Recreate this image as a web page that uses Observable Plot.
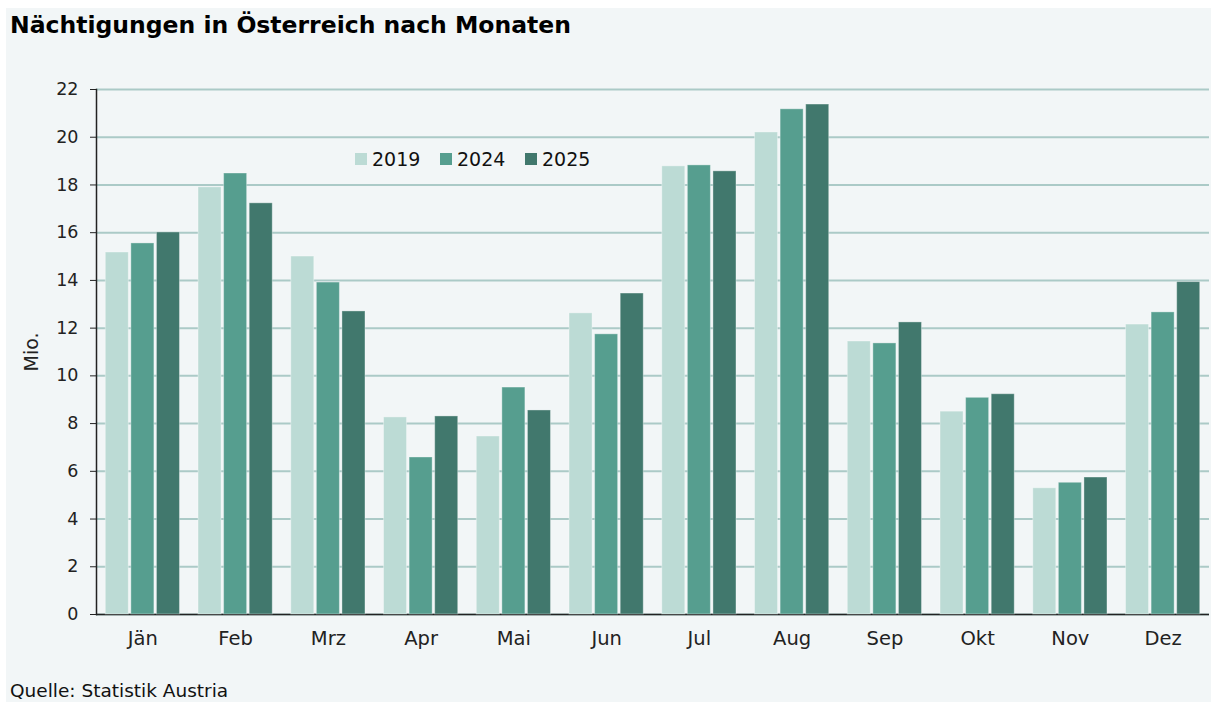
<!DOCTYPE html>
<html><head><meta charset="utf-8">
<script src="https://cdn.jsdelivr.net/npm/d3@7"></script>
<script src="https://cdn.jsdelivr.net/npm/@observablehq/plot@0.6"></script>
<style>
body{margin:0;background:#fff;font-family:"DejaVu Sans",sans-serif;}
#box{position:absolute;left:6px;top:8px;width:1205px;height:694px;background:#f2f6f7;overflow:hidden}
#title{position:absolute;left:4px;top:6px;font-weight:bold;font-size:23.5px;color:#000;white-space:nowrap;line-height:1}
.layer{position:absolute;left:0;top:42px}
#legend{position:absolute;left:349px;top:141px;display:flex;font-size:19px;color:#111;line-height:20px}
.item{display:flex;align-items:center;width:85px}
.sw{width:12px;height:12px;margin-right:5px}
#caption{position:absolute;left:4px;top:672px;font-size:18.5px;color:#111;white-space:nowrap;line-height:1.15}
</style></head>
<body>
<div id="box">
  <div id="title">Nächtigungen in Österreich nach Monaten</div>
  <div id="axes" class="layer"></div>
  <div id="bars" class="layer"></div>
  <div id="legend"></div>
  <div id="caption">Quelle: Statistik Austria</div>
</div>
<script>
const months = ["Jän","Feb","Mrz","Apr","Mai","Jun","Jul","Aug","Sep","Okt","Nov","Dez"];
const years = ["2019","2024","2025"];
const v2019 = [15.17, 17.90, 15.00, 8.26, 7.46, 12.62, 18.78, 20.20, 11.44, 8.50, 5.29, 12.15];
const v2024 = [15.55, 18.48, 13.91, 6.58, 9.51, 11.74, 18.82, 21.17, 11.36, 9.08, 5.52, 12.66];
const v2025 = [16.01, 17.23, 12.70, 8.30, 8.55, 13.45, 18.57, 21.37, 12.24, 9.23, 5.74, 13.93];
const yTicks = [0,2,4,6,8,10,12,14,16,18,20,22];
const colors = ["#bcdbd5","#569e8f","#41786d"];

const series = {"2019": v2019, "2024": v2024, "2025": v2025};
const data = years.flatMap(yr => months.map((m, i) => ({month: m, year: yr, value: series[yr][i]})));

const FONT = '"DejaVu Sans", sans-serif';
const W = 1205, H = 620;
const M = {marginLeft: 90, marginRight: 2, marginTop: 39, marginBottom: 56};
const GRID = "#abcac7";

const axisPlot = Plot.plot({
  width: W, height: H, ...M,
  style: {background: "transparent", fontFamily: FONT, fontSize: "17px", color: "#222"},
  x: {type: "band", domain: months, paddingInner: 0.2, paddingOuter: 0.1, round: false},
  y: {domain: [0, 22]},
  marks: [
    Plot.gridY(yTicks, {stroke: GRID, strokeOpacity: 1, strokeWidth: 2}),
    Plot.axisY(yTicks, {tickSize: 6, tickPadding: 12, label: null, fontSize: 17.5}),
    Plot.axisY({ticks: [], tickSize: 0, label: "Mio.", labelAnchor: "center", labelArrow: "none", labelOffset: 72, fontSize: 19}),
    Plot.axisX({tickSize: 0, tickPadding: 17, label: null, fontSize: 19.5}),
    Plot.ruleY([0], {stroke: "#222", strokeWidth: 1.5}),
    Plot.frame({anchor: "left", stroke: "#222", strokeWidth: 1.5})
  ]
});
document.getElementById("axes").append(axisPlot);

const barPlot = Plot.plot({
  width: W, height: H, ...M,
  style: {background: "transparent"},
  fx: {domain: months, paddingInner: 0.2, paddingOuter: 0.1, round: false, axis: null, label: null},
  x: {domain: years, paddingInner: 0.1, paddingOuter: 0, round: false, axis: null},
  y: {domain: [0, 22], axis: null},
  color: {domain: years, range: colors},
  marks: [
    Plot.barY(data, {fx: "month", x: "year", y: "value", fill: "year", stroke: "#ffffff", strokeOpacity: 0.35, strokeWidth: 1})
  ]
});
document.getElementById("bars").append(barPlot);

const lg = document.getElementById("legend");
years.forEach((yr, i) => {
  const it = document.createElement("div"); it.className = "item";
  const sw = document.createElement("span"); sw.className = "sw"; sw.style.background = colors[i];
  const t = document.createElement("span"); t.textContent = yr;
  it.append(sw, t); lg.append(it);
});
</script>
</body></html>
